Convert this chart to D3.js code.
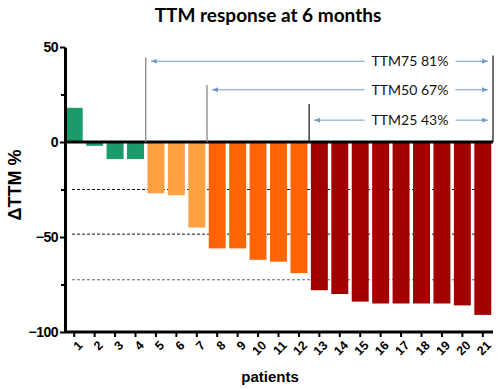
<!DOCTYPE html>
<html>
<head>
<meta charset="utf-8">
<script src="https://cdn.jsdelivr.net/npm/d3@7"></script>
<style>
  html, body { margin: 0; padding: 0; background: #fff; }
</style>
</head>
<body>
<script>
'use strict';

// patient ids and change in TTM (%) at 6 months
const patients = d3.range(1, 22).map(String);
const deltaTTM = [18, -2, -9, -9, -27, -28, -45, -56, -56, -62, -63, -69,
                  -78, -80, -84, -85, -85, -85, -85, -86, -91];
// colour group per patient: 0 = none, 1 = TTM25, 2 = TTM50, 3 = TTM75
const groups = [0, 0, 0, 0, 1, 1, 1, 2, 2, 2, 2, 2, 3, 3, 3, 3, 3, 3, 3, 3, 3];
const groupColors = ["#1b9a6a", "#fca042", "#ff6405", "#a30000"];
const yTicks = [50, 0, -50, -100];
const yMinorTicks = [25, -25, -75];
const thresholdLines = [-25, -48.5, -72.5];

// response brackets: first patient included, label, heights of line and arrow
const brackets = [
  {from: "5", label: "TTM75 81%", top: 44.5, arrowY: 42.5},
  {from: "8", label: "TTM50 67%", top: 30, arrowY: 27.5},
  {from: "13", label: "TTM25 43%", top: 20, arrowY: 11.5}
];

(function() {
  const width = 500, height = 389;
  const left = 65, right = 493, top = 47, bottom = 332;

  const svg = d3.select('body')
    .append('svg')
    .attr('width', width)
    .attr('height', height);

  const x = d3.scaleBand()
    .domain(patients)
    .range([64, right])
    .paddingInner(0.17)
    .paddingOuter(0.085);

  const y = d3.scaleLinear()
    .domain([-100, 50])
    .range([bottom, top]);

  // title
  svg.append('text')
    .attr('x', 268)
    .attr('y', 22)
    .attr('text-anchor', 'middle')
    .style('font-family', 'Lato, sans-serif')
    .style('font-weight', 'bold')
    .style('font-size', '19px')
    .text('TTM response at 6 months');

  // dashed threshold lines
  svg.selectAll('.thr')
    .data(thresholdLines)
    .enter()
    .append('line')
      .attr('x1', 72)
      .attr('x2', right - 1)
      .attr('y1', d => y(d))
      .attr('y2', d => y(d))
      .attr('stroke', (d, i) => i == 2 ? '#666' : '#111')
      .attr('stroke-width', 1)
      .attr('stroke-dasharray', '3,2');

  // bars
  svg.selectAll('.bar')
    .data(deltaTTM)
    .enter()
    .append('rect')
      .attr('x', (d, i) => x(patients[i]))
      .attr('width', x.bandwidth())
      .attr('y', d => y(Math.max(0, d)))
      .attr('height', d => Math.abs(y(d) - y(0)))
      .attr('fill', (d, i) => groupColors[groups[i]]);

  // zero line
  svg.append('line')
    .attr('x1', left)
    .attr('x2', right)
    .attr('y1', y(0))
    .attr('y2', y(0))
    .attr('stroke', '#000')
    .attr('stroke-width', 3);

  // y axis
  const yAxis = svg.append('g')
    .attr('transform', 'translate(' + left + ',0)')
    .call(d3.axisLeft(y).tickValues(yTicks).tickSize(5).tickSizeOuter(0).tickPadding(2));
  yAxis.select('.domain').attr('stroke-width', 3);
  yAxis.selectAll('.tick line').attr('stroke-width', 2);
  yAxis.selectAll('text')
    .style('font-family', 'Liberation Sans, Arial, sans-serif')
    .style('font-weight', 'bold')
    .style('font-size', '14px')
    .style('letter-spacing', '-0.5px')
    .attr('fill', '#000');

  svg.append('g')
    .attr('transform', 'translate(' + left + ',0)')
    .call(d3.axisLeft(y).tickValues(yMinorTicks).tickSize(4).tickFormat(''))
    .call(g => g.select('.domain').remove())
    .selectAll('line').attr('stroke-width', 2);

  // x axis
  const xAxis = svg.append('g')
    .attr('transform', 'translate(0,' + bottom + ')')
    .call(d3.axisBottom(x).tickSize(5).tickSizeOuter(0));
  xAxis.select('.domain')
    .attr('d', 'M' + left + ',0H' + right)
    .attr('stroke-width', 3);
  xAxis.selectAll('.tick line').attr('stroke-width', 2);
  xAxis.selectAll('text')
    .attr('text-anchor', 'end')
    .attr('dy', '0.35em')
    .attr('transform', 'translate(6,11) rotate(-45)')
    .attr('y', 0)
    .style('font-family', 'Liberation Sans, Arial, sans-serif')
    .style('font-weight', 'bold')
    .style('font-size', '12.5px')
    .attr('fill', '#000');

  // axis titles
  svg.append('text')
    .attr('x', 270)
    .attr('y', 382)
    .attr('text-anchor', 'middle')
    .style('font-family', 'Liberation Sans, Arial, sans-serif')
    .style('font-weight', 'bold')
    .style('font-size', '15px')
    .text('patients');

  svg.append('text')
    .attr('transform', 'translate(21,185) rotate(-90)')
    .attr('text-anchor', 'middle')
    .style('font-family', 'Liberation Sans, Arial, sans-serif')
    .style('font-weight', 'bold')
    .style('font-size', '18px')
    .text('\u0394TTM %');

  // response brackets
  svg.append('defs').append('marker')
    .attr('id', 'arrow')
    .attr('viewBox', '0 0 10 10')
    .attr('refX', 10)
    .attr('refY', 5)
    .attr('markerWidth', 6)
    .attr('markerHeight', 6)
    .attr('orient', 'auto-start-reverse')
    .append('path')
      .attr('d', 'M0,1L10,5L0,9Z')
      .attr('fill', '#6f9cc8');

  const endX = x('21') + x.bandwidth() + x.step() * x.paddingInner() / 2;

  svg.append('line')
    .attr('x1', endX)
    .attr('x2', endX)
    .attr('y1', y(45.5))
    .attr('y2', y(0))
    .attr('stroke', '#222')
    .attr('stroke-width', 1.3);

  const labelX = 410;

  brackets.forEach(b => {
    const startX = x(b.from) - x.step() * x.paddingInner() / 2;

    svg.append('line')
      .attr('x1', startX)
      .attr('x2', startX)
      .attr('y1', y(b.top))
      .attr('y2', y(0))
      .attr('stroke', b.from == '13' ? '#222' : '#888')
      .attr('stroke-width', 1.3);

    const label = svg.append('text')
      .attr('x', labelX)
      .attr('y', y(b.arrowY))
      .attr('dy', '0.35em')
      .attr('text-anchor', 'middle')
      .style('font-family', 'Lato, sans-serif')
      .style('font-size', '14px')
      .attr('fill', '#111')
      .text(b.label);

    const half = label.node().getComputedTextLength() / 2;

    svg.append('line')
      .attr('x1', labelX - half - 7)
      .attr('x2', startX + 5)
      .attr('y1', y(b.arrowY))
      .attr('y2', y(b.arrowY))
      .attr('stroke', '#6f9cc8')
      .attr('stroke-width', 1)
      .attr('marker-end', 'url(#arrow)');

    svg.append('line')
      .attr('x1', labelX + half + 7)
      .attr('x2', endX - 5)
      .attr('y1', y(b.arrowY))
      .attr('y2', y(b.arrowY))
      .attr('stroke', '#6f9cc8')
      .attr('stroke-width', 1)
      .attr('marker-end', 'url(#arrow)');
  });
})();
</script>
</body>
</html>
